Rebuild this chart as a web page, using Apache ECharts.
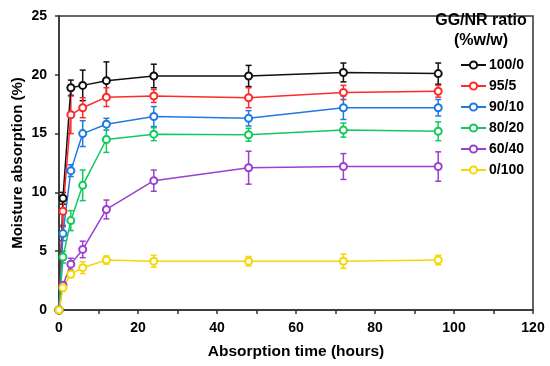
<!DOCTYPE html>
<html><head><meta charset="utf-8">
<script src="https://cdn.jsdelivr.net/npm/echarts@6/dist/echarts.min.js"></script>
<style>html,body{margin:0;padding:0;background:#fff}#c{width:550px;height:366px}</style>
</head><body><div id="c"></div>
<script>
var hours = [0, 1, 3, 6, 12, 24, 48, 72, 96];
var seriesNames = ['100/0', '95/5', '90/10', '80/20', '60/40', '0/100'];
var gg100 = [0, 9.5, 18.9, 19.1, 19.5, 19.9, 19.9, 20.2, 20.1];
var err100 = [0, 0.5, 0.65, 1.3, 1.6, 1.0, 0.9, 0.8, 0.9];
var gg95 = [0, 8.4, 16.6, 17.2, 18.1, 18.2, 18.05, 18.5, 18.6];
var err95 = [0, 1.2, 1.6, 0.85, 0.8, 0.55, 0.85, 0.6, 0.5];
var gg90 = [0, 6.5, 11.85, 15.0, 15.8, 16.45, 16.3, 17.2, 17.2];
var err90 = [0, 0.6, 0.5, 1.1, 0.5, 0.85, 0.65, 1.0, 0.7];
var gg80 = [0, 4.5, 7.6, 10.6, 14.5, 14.95, 14.9, 15.3, 15.2];
var err80 = [0, 0.5, 0.85, 1.3, 1.1, 0.55, 0.55, 0.6, 0.8];
var gg60 = [0, 2.1, 3.9, 5.15, 8.55, 11.0, 12.1, 12.2, 12.2];
var err60 = [0, 0.3, 0.5, 0.7, 0.8, 0.9, 1.4, 1.1, 1.25];
var gg0 = [0, 1.9, 3.05, 3.6, 4.25, 4.15, 4.15, 4.15, 4.25];
var err0 = [0, 0.3, 0.3, 0.5, 0.35, 0.5, 0.4, 0.6, 0.4];
var xTicks = [0, 20, 40, 60, 80, 100, 120];
var yTicks = [0, 5, 10, 15, 20, 25];

var values = [gg100, gg95, gg90, gg80, gg60, gg0];
var errors = [err100, err95, err90, err80, err60, err0];
var colors = ['#111111', '#ff2a2a', '#1f7ae0', '#12c95e', '#9a3fd0', '#f5d800'];
var FONT = '"Liberation Sans", Arial, sans-serif';

var series = [];
values.forEach(function (vals, k) {
  series.push({
    name: seriesNames[k], type: 'line',
    data: hours.map(function (h, i) { return [h, vals[i]]; }),
    symbol: 'emptyCircle', symbolSize: 7,
    lineStyle: { color: colors[k], width: 1.5 },
    itemStyle: { color: colors[k], borderWidth: 1.5 },
    z: 3
  });
  series.push({
    name: seriesNames[k], type: 'custom',
    data: hours.map(function (h, i) { return [h, vals[i] - errors[k][i], vals[i] + errors[k][i], errors[k][i]]; }),
    encode: { x: 0, y: [1, 2] },
    z: 2,
    renderItem: function (params, api) {
      if (api.value(3) === 0) return null;
      var lo = api.coord([api.value(0), api.value(1)]);
      var hi = api.coord([api.value(0), api.value(2)]);
      var w = 3;
      var st = { stroke: colors[k], lineWidth: 1.5 };
      return { type: 'group', children: [
        { type: 'line', shape: { x1: lo[0], y1: lo[1], x2: hi[0], y2: hi[1] }, style: st },
        { type: 'line', shape: { x1: lo[0] - w, y1: lo[1], x2: lo[0] + w, y2: lo[1] }, style: st },
        { type: 'line', shape: { x1: hi[0] - w, y1: hi[1], x2: hi[0] + w, y2: hi[1] }, style: st }
      ]};
    }
  });
});

var chart = echarts.init(document.getElementById('c'));
chart.setOption({
  animation: false,
  textStyle: { fontFamily: FONT },
  grid: { left: 59, right: 17, top: 16, bottom: 56, show: true, borderColor: '#333', borderWidth: 1.5,
          containLabel: false, outerBoundsMode: 'none' },
  title: {
    text: 'GG/NR ratio\n(%w/w)', left: 481, top: 11, textAlign: 'center', padding: 0,
    textStyle: { fontFamily: FONT, fontWeight: 'bold', fontSize: 16, lineHeight: 20, color: '#000' }
  },
  legend: {
    data: seriesNames, orient: 'vertical', left: 460, top: 58, padding: 0,
    itemWidth: 25, itemHeight: 9, itemGap: 7,
    textStyle: { fontFamily: FONT, fontWeight: 'bold', fontSize: 14, color: '#000', padding: [0, 0, 0, -2] }
  },
  xAxis: {
    type: 'value', min: xTicks[0], max: xTicks[xTicks.length - 1], interval: 20,
    name: 'Absorption time (hours)', nameLocation: 'middle', nameGap: 34,
    nameTextStyle: { fontFamily: FONT, fontWeight: 'bold', fontSize: 15.5, color: '#000' },
    axisLine: { lineStyle: { color: '#333', width: 1.5 } },
    axisTick: { inside: false, length: 4, lineStyle: { color: '#333', width: 1.5 } },
    minorTick: { show: true, splitNumber: 2, length: 4, lineStyle: { color: '#333', width: 1.5 } },
    axisLabel: { fontFamily: FONT, fontWeight: 'bold', fontSize: 14, color: '#000', margin: 11 },
    splitLine: { show: false }
  },
  yAxis: {
    type: 'value', min: yTicks[0], max: yTicks[yTicks.length - 1], interval: 5,
    name: 'Moisture absorption (%)', nameLocation: 'middle', nameGap: 34, nameMoveOverlap: false,
    nameTextStyle: { fontFamily: FONT, fontWeight: 'bold', fontSize: 15, color: '#000' },
    axisLine: { show: true, lineStyle: { color: '#333', width: 1.5 } },
    axisTick: { show: true, length: 4, lineStyle: { color: '#333', width: 1.5 } },
    axisLabel: { fontFamily: FONT, fontWeight: 'bold', fontSize: 14, color: '#000', margin: 12 },
    splitLine: { show: false }
  },
  series: series
});
</script></body></html>
